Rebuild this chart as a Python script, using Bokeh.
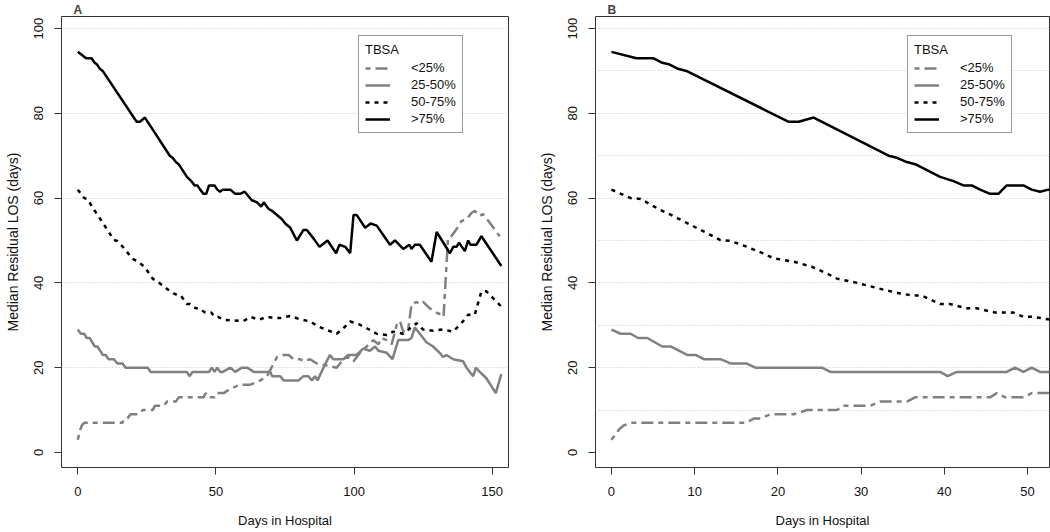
from bokeh.plotting import figure
from bokeh.models import Range1d, FixedTicker, Legend, LegendItem
from bokeh.layouts import row
from bokeh.embed import file_html
from bokeh.resources import INLINE

# ---------------- data (days in hospital -> median residual LOS, days) -------------
days_lt25 = [0, 0.9, 1.5, 2.3, 16.1, 17.1, 17.9, 19.1, 21.9, 23.5, 27.1, 27.9, 31.1, 32.3,
             35.5, 36.5, 45.5, 46.3, 47.3, 49.5, 50.5, 52.8, 55.2, 58.8, 62.5, 66.1, 68.5,
             72.1, 74.5, 76.3, 78.1, 80.5, 81.7, 84.1, 86.5, 90.1, 93.7, 96.1, 97.9, 99.8,
             102.2, 104.6, 107, 108.8, 110, 111.8, 113.6, 115.4, 116.6, 117.8, 119.6, 120.8,
             122.6, 123.8, 125, 127.4, 129.8, 131.6, 132.4, 134, 135.2, 137, 138.9, 140.7,
             142.5, 143.7, 145.5, 146.7, 149.1, 152.7]
los_lt25 = [3, 5.4, 6.4, 7, 7, 8, 8, 9, 9, 10, 10, 11, 11, 12,
            12, 13, 13, 14, 13, 13, 14, 14, 15, 16, 16, 17, 18,
            22.5, 23, 23, 22, 22, 21.5, 22, 21, 20.5, 20, 22, 22.5, 21.5,
            23.5, 25, 26.5, 25.5, 27, 26.5, 25.5, 30, 31, 28.5, 29, 35,
            35.5, 35, 35.5, 34, 33, 32.5, 32, 50.6, 51, 52.6, 54.6, 55,
            56.5, 57, 55.8, 56.2, 54.2, 51]

days_2550 = [0, 1.1, 2.3, 3.2, 4.3, 6.1, 7.1, 9.1, 10.1, 11.1, 13.1, 14.3, 16.2, 17.3,
             25.3, 26.3, 39.5, 40.4, 41.5, 47.5, 48.5, 49.5, 50.5, 51.5, 52.5, 55.2, 57,
             59.4, 61.3, 63.7, 69.7, 70.3, 73.3, 74.5, 79.9, 81.7, 83.5, 84.7, 85.9, 86.8,
             88.9, 91.3, 92.5, 96.1, 97.9, 100.9, 103.3, 105.7, 107.6, 108.8, 111.8, 113.9,
             116, 119.6, 120.8, 122, 123.8, 126.2, 128.6, 131, 132.2, 133.4, 135.9, 139.5,
             140.7, 143.1, 144.1, 145.5, 147.9, 151.3, 153.3]
los_2550 = [29, 28, 28, 27, 27, 25, 25, 23, 23, 22, 22, 21, 21, 20,
            20, 19, 19, 18, 19, 19, 20, 19, 20, 19, 19, 20, 19,
            20, 20, 19, 19, 18, 18, 17, 17, 18, 18, 17, 18, 17,
            20, 23, 22, 22, 23, 23, 24.5, 24, 25, 24, 23.5, 22,
            26.5, 26.5, 27, 29.5, 28, 26, 25, 23.5, 22.5, 23, 22, 21.5,
            20, 18, 20, 19, 17.5, 14, 18.5]

days_5075 = [0, 2.3, 3.5, 5.5, 7.9, 9.9, 11.9, 13.1, 14.3, 16.3, 18.3, 19.5, 21.9, 24.1,
             25.9, 27.1, 29.5, 30.7, 32.7, 34.7, 36.3, 37.3, 39.5, 40.7, 42.7, 43.9, 46.1,
             48.3, 49.5, 50.7, 52.8, 60, 62.5, 65.5, 68.5, 70.9, 73.3, 76.9, 80.5, 84.1,
             87.1, 90.1, 93.7, 96.1, 98.6, 101.6, 104.6, 108.2, 111.8, 114.2, 117.8, 122.6,
             125, 128.6, 132.2, 135.9, 139.5, 141.3, 143.7, 146.1, 147.9, 153.3]
los_5075 = [62, 60, 59.8, 57.6, 55.3, 53.3, 51.3, 50.1, 49.9, 48.5, 46.9, 45.8, 45, 43.8,
            42.2, 41, 40, 39.4, 38.4, 37.5, 37, 37, 35, 35, 34, 34, 33,
            33, 32, 32, 31.3, 31, 32, 31.3, 32, 31.7, 31.7, 32.2, 31.4, 30.9,
            29.7, 28.9, 28, 29.3, 30.9, 30.3, 29.3, 28, 27.7, 28.5, 28, 30.5,
            29, 28.7, 29, 28.5, 31, 32.5, 32.5, 38, 38, 34.4]

days_gt75 = [0, 3, 5, 6, 7, 8, 9, 21.3, 22.5, 24.3, 33.3, 34.3, 35.5, 36.5, 39.5, 41.1,
             42.3, 43.3, 44.3, 45.5, 46.5, 47.5, 49.5, 50.5, 51.5, 52.5, 53.4, 55.2, 57,
             58.8, 60.4, 63, 64.9, 66.4, 67.3, 69, 70.3, 72.1, 73.9, 75.1, 76.9, 79.3, 81.7,
             82.9, 85.3, 87.5, 90.4, 93.5, 94.7, 96.8, 98.6, 99.8, 101, 104, 106, 108.2, 113,
             114.8, 117.8, 120, 120.8, 122, 123.8, 128, 129.9, 134.7, 135.9, 137.1, 138,
             140.1, 141.3, 142.1, 144.3, 146.1, 153.3]
los_gt75 = [94.5, 93, 93, 92, 91.5, 90.5, 90, 78, 78, 79, 70, 69.5, 68.5, 68, 65, 64,
            63, 63, 62, 61, 61, 63, 63, 62, 61.5, 62, 62, 62, 61,
            61, 61.5, 59.5, 59, 58, 59, 57.5, 57, 56, 55, 54, 53, 50, 52.5,
            52.5, 50.5, 48.5, 50, 47, 49, 48.5, 47, 56, 56, 53, 54, 53.5, 49,
            50, 48, 49, 48, 49, 49, 45, 52, 47, 48.5, 48.5, 49.5,
            47.5, 50, 49, 49, 51, 44]

series_labels = ["<25%", "25-50%", "50-75%", ">75%"]
series_days = [days_lt25, days_2550, days_5075, days_gt75]
series_los = [los_lt25, los_2550, los_5075, los_gt75]

xticks_A = [0, 50, 100, 150]
xticks_B = [0, 10, 20, 30, 40, 50]
yticks = [0, 20, 40, 60, 80, 100]
grid_A = [20, 40, 60, 80, 100]
grid_B = [10, 20, 30, 40, 50, 60, 70, 80, 90, 100]

# ---------------- styles ----------------
FONT = "Liberation Sans"
styles = [
    dict(line_color="#808080", line_width=2.5, line_dash="5 5 12 5"),
    dict(line_color="#808080", line_width=2.5),
    dict(line_color="#000000", line_width=2.5, line_dash="4 5"),
    dict(line_color="#000000", line_width=2.5),
]


def make_panel(title, xr, xticks, grid, border_left, border_right, legend_loc):
    p = figure(width=525, height=530, x_range=Range1d(*xr), y_range=Range1d(-3.55, 102.84),
               output_backend="svg", toolbar_location=None,
               min_border_left=border_left, min_border_right=border_right,
               min_border_top=14, min_border_bottom=63)
    p.title.text = title
    p.title.text_font = FONT
    p.title.text_font_size = "12px"
    p.title.text_font_style = "bold"
    p.title.text_line_height = 1.0
    p.title.align = "left"
    p.title.offset = 12
    p.title.standoff = 0
    p.outline_line_color = "#333333"
    p.outline_line_width = 1
    p.background_fill_color = "white"
    p.border_fill_color = "white"

    p.xaxis.ticker = FixedTicker(ticks=xticks)
    p.yaxis.ticker = FixedTicker(ticks=yticks)
    p.xgrid.visible = False
    p.ygrid.ticker = FixedTicker(ticks=grid)
    p.ygrid.grid_line_color = "#c4c4c4"
    p.ygrid.grid_line_dash = "1 2"
    p.ygrid.grid_line_width = 1

    for ax in (p.xaxis, p.yaxis):
        ax.axis_line_color = None
        ax.major_tick_line_color = "#333333"
        ax.major_tick_out = 7
        ax.major_tick_in = 0
        ax.minor_tick_line_color = None
        ax.major_label_text_font = FONT
        ax.major_label_text_color = "#111111"
        ax.axis_label_text_font = FONT
        ax.axis_label_text_font_style = "normal"
        ax.axis_label_text_color = "#111111"
    p.xaxis.major_label_text_font_size = "13px"
    p.yaxis.major_label_text_font_size = "13px"
    p.xaxis.axis_label_text_font_size = "13px"
    p.yaxis.axis_label_text_font_size = "14px"
    p.yaxis.major_label_orientation = "vertical"
    p.xaxis.major_label_standoff = 12
    p.yaxis.major_label_standoff = 11
    p.xaxis.axis_label = "Days in Hospital"
    p.yaxis.axis_label = "Median Residual LOS (days)"
    p.xaxis.axis_label_standoff = 14
    p.yaxis.axis_label_standoff = 11

    items = []
    for lab, d, v, st in zip(series_labels, series_days, series_los, styles):
        r = p.line(d, v, **st)
        items.append(LegendItem(label=lab, renderers=[r]))

    leg = Legend(items=items, location=legend_loc, title="TBSA",
                 border_line_color="#333333", border_line_width=1,
                 background_fill_color="white", background_fill_alpha=1.0,
                 label_text_font=FONT, label_text_font_size="13px",
                 label_text_color="#111111",
                 title_text_font=FONT, title_text_font_size="13px",
                 title_text_font_style="normal", title_text_color="#111111",
                 glyph_width=25, glyph_height=14, label_height=14,
                 spacing=2, padding=6, label_standoff=21, margin=0,
                 title_standoff=3)
    p.add_layout(leg)
    return p


pA = make_panel("A", (-5.9, 155.9), xticks_A, grid_A, 61, 17, (297, 334))
pB = make_panel("B", (-1.92, 52.64), xticks_B, grid_B, 70, 1, (312, 334))

layout = row(pA, pB)
open("out.html", "w").write(file_html(layout, INLINE))
